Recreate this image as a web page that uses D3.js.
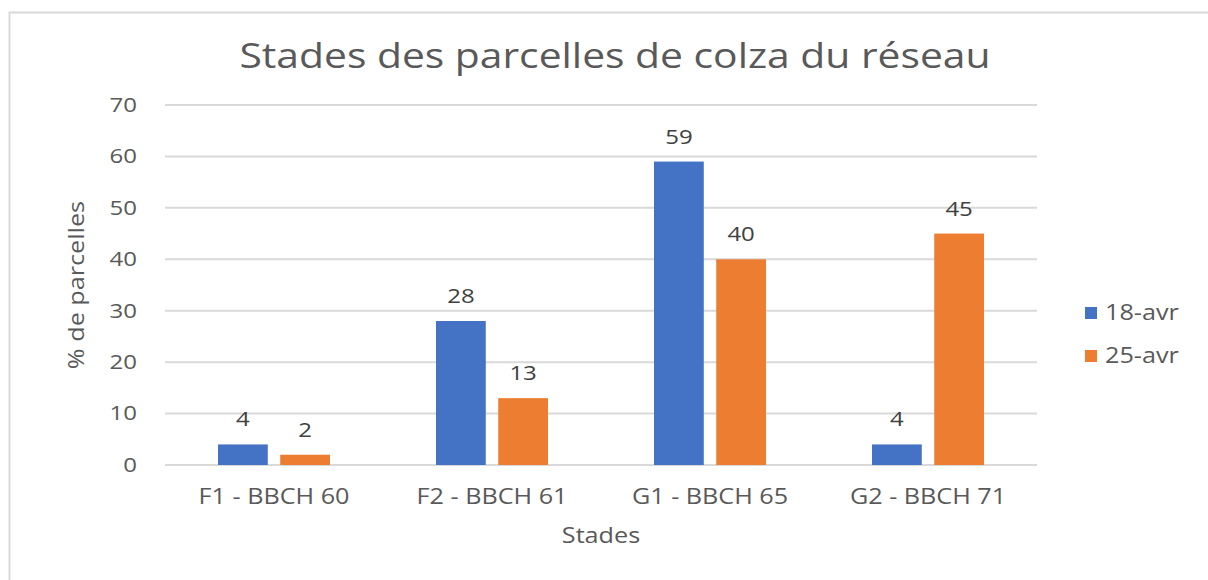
<!DOCTYPE html>
<html>
<head>
<meta charset="utf-8">
<script src="https://cdn.jsdelivr.net/npm/d3@7"></script>
<style>
  body { margin: 0; background: #fff; }
  svg, svg text { font-family: "Open Sans", "Noto Sans", sans-serif; }
</style>
</head>
<body>
<div id="chart"></div>
<script>
"use strict";
// stades (x categories) and the two survey dates
var categories = ["F1 - BBCH 60", "F2 - BBCH 61", "G1 - BBCH 65", "G2 - BBCH 71"];
var seriesNames = ["18-avr", "25-avr"];
var values18 = [4, 28, 59, 4];
var values25 = [2, 13, 40, 45];
var yTicks = [0, 10, 20, 30, 40, 50, 60, 70];
var colors = ["#4472c4", "#ed7d31"];

var w = 1208, h = 580;
var plotLeft = 165, plotRight = 1037, plotTop = 105, plotBottom = 465;
//the source text is drawn a bit wider than open sans
var k = 1.2;

var svg = d3.select("#chart").append("svg")
  .attr("width", w)
  .attr("height", h);

//widen a text horizontally around its own x
function stretch(sel) {
  sel.each(function() {
    var t = d3.select(this);
    var tx = +t.attr("x") || 0;
    t.attr("x", tx / k);
    var tr = t.attr("transform") || "";
    t.attr("transform", tr + " scale(" + k + ",1)");
  });
}

// outer chart frame
svg.append("rect")
  .attr("x", 9.5).attr("y", 12.5)
  .attr("width", 1220).attr("height", 600)
  .attr("fill", "none")
  .attr("stroke", "#d9d9d9")
  .attr("stroke-width", 2);

var x = d3.scaleBand().domain(categories).range([plotLeft, plotRight]);
var x1 = d3.scaleBand().domain(seriesNames).range([0, 112]).paddingInner(0.2);
var y = d3.scaleLinear().domain([0, 70]).range([plotBottom, plotTop]);

// gridlines
svg.append("g").selectAll("line")
  .data(yTicks)
  .join("line")
  .attr("x1", plotLeft).attr("x2", plotRight)
  .attr("y1", function(d) { return y(d); })
  .attr("y2", function(d) { return y(d); })
  .attr("stroke", "#d9d9d9")
  .attr("stroke-width", 2);

// y axis labels
var yAxis = svg.append("g")
  .attr("transform", "translate(" + (plotLeft - 28) + ",0)")
  .call(d3.axisLeft(y).tickValues(yTicks).tickSize(0).tickPadding(0));
yAxis.attr("font-family", null);
yAxis.select(".domain").remove();
yAxis.selectAll("text")
  .attr("fill", "#595959")
  .style("font-size", "20px")
  .call(stretch);

// x axis labels
var xAxis = svg.append("g")
  .attr("transform", "translate(0," + plotBottom + ")")
  .call(d3.axisBottom(x).tickSize(0).tickPadding(24));
xAxis.attr("font-family", null);
xAxis.select(".domain").remove();
xAxis.selectAll("text")
  .attr("fill", "#595959")
  .style("font-size", "21px")
  .call(stretch);

var rows = categories.map(function(c, i) {
  return { cat: c, vals: [values18[i], values25[i]] };
});

var groups = svg.append("g").selectAll("g")
  .data(rows)
  .join("g")
  .attr("transform", function(d) {
    return "translate(" + (x(d.cat) + x.bandwidth() / 2 - 56) + ",0)";
  });

groups.selectAll("rect")
  .data(function(d) {
    return d.vals.map(function(v, j) { return { s: seriesNames[j], v: v, j: j }; });
  })
  .join("rect")
  .attr("x", function(d) { return x1(d.s); })
  .attr("width", x1.bandwidth())
  .attr("y", function(d) { return y(d.v); })
  .attr("height", function(d) { return y(0) - y(d.v); })
  .attr("fill", function(d) { return colors[d.j]; });

// data labels
groups.selectAll("text")
  .data(function(d) {
    return d.vals.map(function(v, j) { return { s: seriesNames[j], v: v }; });
  })
  .join("text")
  .attr("x", function(d) { return x1(d.s) + x1.bandwidth() / 2; })
  .attr("y", function(d) { return y(d.v) - 18; })
  .attr("text-anchor", "middle")
  .attr("fill", "#404040")
  .style("font-size", "20px")
  .text(function(d) { return d.v; })
  .call(stretch);

// title
svg.append("text")
  .attr("x", 615).attr("y", 68)
  .attr("text-anchor", "middle")
  .attr("fill", "#595959")
  .style("font-size", "34px")
  .text("Stades des parcelles de colza du réseau")
  .call(stretch);

// axis titles
svg.append("text")
  .attr("x", 601).attr("y", 543)
  .attr("text-anchor", "middle")
  .attr("fill", "#595959")
  .style("font-size", "21px")
  .text("Stades")
  .call(stretch);

svg.append("text")
  .attr("transform", "translate(84,285) rotate(-90)")
  .attr("text-anchor", "middle")
  .attr("fill", "#595959")
  .style("font-size", "21px")
  .text("% de parcelles")
  .call(stretch);

// legend
var legend = svg.append("g").selectAll("g")
  .data(seriesNames)
  .join("g")
  .attr("transform", function(d, i) { return "translate(1085," + (313 + i * 43) + ")"; });

legend.append("rect")
  .attr("x", 0).attr("y", -6)
  .attr("width", 12).attr("height", 12)
  .attr("fill", function(d, i) { return colors[i]; });

legend.append("text")
  .attr("x", 20).attr("y", 7)
  .attr("fill", "#595959")
  .style("font-size", "21px")
  .text(function(d) { return d; })
  .call(stretch);
</script>
</body>
</html>
